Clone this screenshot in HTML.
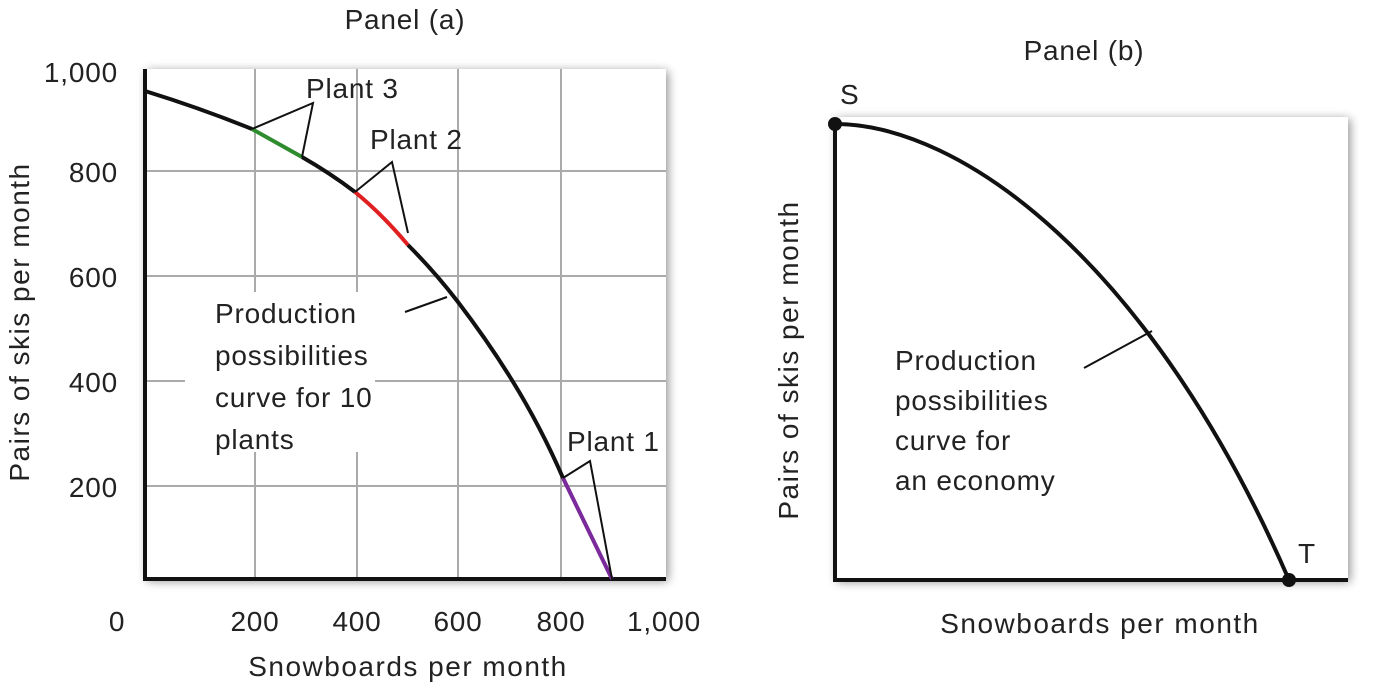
<!DOCTYPE html>
<html><head><meta charset="utf-8"><style>
html,body{margin:0;padding:0;background:#fff;}
svg{display:block;font-family:"Liberation Sans",sans-serif;}
</style></head><body>
<svg width="1387" height="686" viewBox="0 0 1387 686" xmlns="http://www.w3.org/2000/svg">
<defs>
<filter id="sh" x="-10%" y="-10%" width="120%" height="120%"><feGaussianBlur in="SourceAlpha" stdDeviation="5"/><feOffset dx="2" dy="2"/><feComponentTransfer><feFuncA type="linear" slope="0.45"/></feComponentTransfer><feMerge><feMergeNode/><feMergeNode in="SourceGraphic"/></feMerge></filter>
</defs>
<!-- Panel a -->
<rect x="145" y="69" width="521" height="510" fill="#fff" filter="url(#sh)"/>
<g stroke="#aaa" stroke-width="2">
<line x1="255" y1="69" x2="255" y2="579"/><line x1="357" y1="69" x2="357" y2="579"/>
<line x1="458" y1="69" x2="458" y2="579"/><line x1="561" y1="69" x2="561" y2="579"/>
<line x1="145" y1="171" x2="666" y2="171"/><line x1="145" y1="276" x2="666" y2="276"/>
<line x1="145" y1="381" x2="666" y2="381"/><line x1="145" y1="486" x2="666" y2="486"/>
</g>
<rect x="185" y="292" width="190" height="160" fill="#fff"/>
<line x1="145" y1="69" x2="145" y2="580" stroke="#111" stroke-width="4"/>
<line x1="143" y1="579" x2="666" y2="579" stroke="#111" stroke-width="4"/>
<path d="M145,91 Q200,108 252,129" fill="none" stroke="#111" stroke-width="4"/>
<path d="M252,129 L302,157" fill="none" stroke="#2e8b2e" stroke-width="4"/>
<path d="M302,157 Q330,173 355,192" fill="none" stroke="#111" stroke-width="4"/>
<path d="M355,192 Q383,215 408,245" fill="none" stroke="#e02020" stroke-width="4"/>
<path d="M408,245 Q435,272 458,302 Q487,340 510,377 Q540,425 563,478" fill="none" stroke="#111" stroke-width="4"/>
<path d="M563,478 L612,579" fill="none" stroke="#7a2a9a" stroke-width="4"/>
<g fill="none" stroke="#111" stroke-width="2">
<polyline points="252,129 313,103 302,157"/>
<polyline points="355,192 392,162 408,233"/>
<polyline points="563,478 590,461 612,579"/>
<line x1="405" y1="312" x2="447" y2="297"/>
</g>
<g font-size="28" fill="#222" letter-spacing="0.8">
<text x="306" y="98">Plant 3</text>
<text x="370" y="149">Plant 2</text>
<text x="567" y="451">Plant 1</text>
<text x="215" y="323">Production</text>
<text x="215" y="365">possibilities</text>
<text x="215" y="407">curve for 10</text>
<text x="215" y="449">plants</text>
<g text-anchor="end"><text x="118" y="82">1,000</text><text x="118" y="182">800</text><text x="118" y="287">600</text><text x="118" y="392">400</text><text x="118" y="497">200</text></g>
<g text-anchor="middle"><text x="117" y="631">0</text><text x="255" y="631">200</text><text x="357" y="631">400</text><text x="458" y="631">600</text><text x="561" y="631">800</text><text x="664" y="631">1,000</text>
<text x="408" y="676" letter-spacing="1.5">Snowboards per month</text>
<text x="405" y="29">Panel (a)</text>
<text transform="translate(29,322) rotate(-90)" letter-spacing="1.5">Pairs of skis per month</text>
<text x="1084" y="60">Panel (b)</text>
<text x="1100" y="633" letter-spacing="1.5">Snowboards per month</text>
<text transform="translate(798,360) rotate(-90)" letter-spacing="1.5">Pairs of skis per month</text>
</g>
</g>
<!-- Panel b -->
<rect x="835" y="117" width="513" height="463" fill="#fff" filter="url(#sh)"/>
<line x1="835" y1="122" x2="835" y2="581" stroke="#111" stroke-width="4"/>
<line x1="833" y1="580" x2="1348" y2="580" stroke="#111" stroke-width="4"/>
<path d="M835,124 C960,124 1150,260 1289,580" fill="none" stroke="#111" stroke-width="4"/>
<circle cx="835" cy="124" r="7" fill="#111"/>
<circle cx="1289" cy="580" r="7" fill="#111"/>
<line x1="1084" y1="368" x2="1152" y2="331" stroke="#111" stroke-width="2"/>
<g font-size="28" fill="#222" letter-spacing="0.8">
<text x="840" y="104">S</text>
<text x="1298" y="563">T</text>
<text x="895" y="370">Production</text>
<text x="895" y="410">possibilities</text>
<text x="895" y="450">curve for</text>
<text x="895" y="490">an economy</text>
</g>
</svg>
</body></html>
